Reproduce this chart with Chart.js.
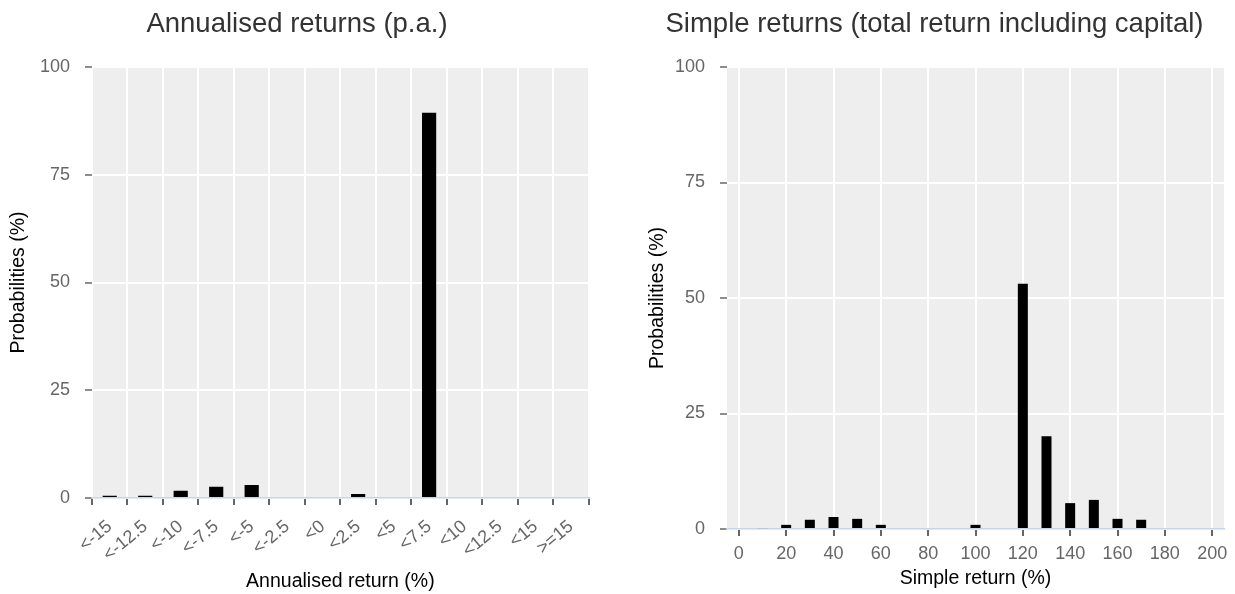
<!DOCTYPE html>
<html>
<head>
<meta charset="utf-8">
<script src="https://cdn.jsdelivr.net/npm/chart.js@4.4.1/dist/chart.umd.min.js"></script>
<style>
    body { margin: 0; background: #fff; overflow: hidden; }
    #wrap { position: relative; width: 1235px; height: 594px; }
    .box { position: absolute; top: 0; height: 594px; }
    #leftBox { left: 0; width: 596px; }
    #rightBox { left: 645px; width: 590px; }
</style>
</head>
<body>
<div id="wrap">
    <div class="box" id="leftBox"><canvas id="annualChart"></canvas></div>
    <div class="box" id="rightBox"><canvas id="simpleChart"></canvas></div>
</div>
<script>
// annualised returns, binned
var annualLabels = ["<-15", "<-12.5", "<-10", "<-7.5", "<-5", "<-2.5", "<0", "<2.5", "<5", "<7.5", "<10", "<12.5", "<15", ">=15"];
var annualValues = [0.5, 0.5, 1.7, 2.6, 3.0, 0, 0, 0.9, 0, 89.4, 0, 0, 0, 0];

// simple returns, bins of 10
var simpleBins = [0, 10, 20, 30, 40, 50, 60, 70, 80, 90, 100, 110, 120, 130, 140, 150, 160, 170, 180, 190, 200];
var simpleValues = [0, 0.2, 0.9, 2.0, 2.6, 2.2, 0.9, 0, 0, 0, 0.9, 0, 53.1, 20.1, 5.6, 6.3, 2.2, 2.0, 0, 0, 0];
var simpleTicks = [0, 20, 40, 60, 80, 100, 120, 140, 160, 180, 200];

var probTicks = [0, 25, 50, 75, 100];

Chart.defaults.font.family = "'Liberation Sans', Arial, Helvetica, sans-serif";
Chart.defaults.animation = false;

var panelBg = {
    id: 'panelBg',
    beforeDraw: function (chart) {
        var a = chart.chartArea;
        var ctx = chart.ctx;
        ctx.save();
        ctx.fillStyle = '#eeeeee';
        ctx.fillRect(a.left, a.top, a.right - a.left, a.bottom - a.top);
        ctx.restore();
    }
};

function titleOpts(text) {
    return {
        display: true,
        text: text,
        color: '#333333',
        font: { size: 27.5, weight: 'normal', lineHeight: 1.2 },
        padding: { top: 8, bottom: 26 }
    };
}

function yScale(width, titlePad) {
    return {
        min: 0,
        max: 100,
        afterBuildTicks: function (scale) {
            scale.ticks = probTicks.map(function (v) { return { value: v }; });
        },
        afterFit: function (scale) { scale.width = width; },
        border: { display: false },
        grid: {
            color: '#ffffff',
            lineWidth: 2,
            tickColor: '#666666',
            tickLength: 7,
            tickWidth: 1.5
        },
        ticks: { color: '#666666', font: { size: 18 }, padding: 15 },
        title: {
            display: true,
            text: 'Probabilities (%)',
            color: '#000000',
            font: { size: 19.5 },
            padding: { top: titlePad, bottom: 0 }
        }
    };
}

var ctx1 = document.getElementById("annualChart").getContext("2d");
var ctx2 = document.getElementById("simpleChart").getContext("2d");

var chart1 = new Chart(ctx1, {
    type: 'bar',
    data: {
        labels: annualLabels,
        datasets: [{
            label: 'Annualised',
            data: annualValues,
            backgroundColor: '#000000',
            borderWidth: 0,
            inflateAmount: 0,
            barPercentage: 0.4,
            categoryPercentage: 1.0
        }]
    },
    options: {
        responsive: true,
        maintainAspectRatio: false,
        layout: { padding: { left: 0, right: 2, top: 0, bottom: 0 } },
        plugins: {
            legend: { display: false },
            tooltip: { enabled: false },
            title: titleOpts('Annualised returns (p.a.)')
        },
        scales: {
            x: {
                afterFit: function (scale) { scale.height = 96; },
                border: { display: true, color: '#c8d4ea', width: 1.5 },
                grid: {
                    color: '#ffffff',
                    lineWidth: 2,
                    tickColor: '#666666',
                    tickLength: 7,
                    tickWidth: 2
                },
                ticks: {
                    color: '#666666',
                    font: { size: 18 },
                    minRotation: 40,
                    maxRotation: 40,
                    autoSkip: false,
                    padding: 11
                },
                title: {
                    display: true,
                    text: 'Annualised return (%)',
                    color: '#000000',
                    font: { size: 19.5 },
                    padding: { top: 0, bottom: 0.5 }
                }
            },
            y: yScale(92, 7)
        }
    },
    plugins: [panelBg]
});

var chart2 = new Chart(ctx2, {
    type: 'bar',
    data: {
        datasets: [{
            label: 'Simple',
            data: simpleBins.map(function (b, i) { return { x: b, y: simpleValues[i] }; }),
            backgroundColor: '#000000',
            borderWidth: 0,
            inflateAmount: 0,
            barThickness: 10
        }]
    },
    options: {
        responsive: true,
        maintainAspectRatio: false,
        layout: { padding: { left: 0, right: 11, top: 0, bottom: 0 } },
        plugins: {
            legend: { display: false },
            tooltip: { enabled: false },
            title: titleOpts('Simple returns (total return including capital)')
        },
        scales: {
            x: {
                type: 'linear',
                min: -5,
                max: 205,
                offset: false,
                afterBuildTicks: function (scale) {
                    scale.ticks = simpleTicks.map(function (v) { return { value: v }; });
                },
                afterFit: function (scale) { scale.height = 65; },
                border: { display: true, color: '#c8d4ea', width: 1.5 },
                grid: {
                    offset: false,
                    color: '#ffffff',
                    lineWidth: 2,
                    tickColor: '#666666',
                    tickLength: 7,
                    tickWidth: 2
                },
                ticks: { color: '#666666', font: { size: 18 }, padding: 7, maxRotation: 0 },
                title: {
                    display: true,
                    text: 'Simple return (%)',
                    color: '#000000',
                    font: { size: 19.5 },
                    padding: { top: 0, bottom: 4 }
                }
            },
            y: yScale(82, 1.3)
        }
    },
    plugins: [panelBg]
});
</script>
</body>
</html>
